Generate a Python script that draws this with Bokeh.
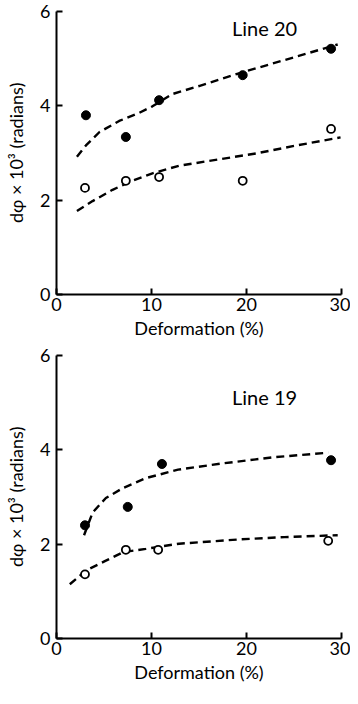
from bokeh.plotting import figure
from bokeh.layouts import column
from bokeh.models import Range1d, FixedTicker
from bokeh.core.properties import value
from bokeh.embed import file_html
from bokeh.resources import INLINE

FONT = "Lato"

# ---- Line 20 (top panel) ----
top_filled_x = [3.1, 7.3, 10.8, 19.6, 28.9]
top_filled_y = [3.80, 3.34, 4.12, 4.65, 5.21]
top_open_x = [3.0, 7.3, 10.8, 19.6, 28.9]
top_open_y = [2.26, 2.41, 2.49, 2.41, 3.51]
top_fit_hi_x = [2.15, 3.1, 4.5, 6.6, 8.7, 10.1, 12.2, 15.0, 19.2, 24.0, 29.6]
top_fit_hi_y = [2.92, 3.16, 3.44, 3.68, 3.85, 3.99, 4.25, 4.42, 4.69, 4.97, 5.30]
top_fit_lo_x = [2.15, 3.8, 5.9, 8.0, 10.1, 12.9, 16.0, 21.0, 25.0, 29.9]
top_fit_lo_y = [1.77, 1.98, 2.22, 2.41, 2.57, 2.73, 2.83, 2.99, 3.15, 3.33]
top_label = "Line 20"
top_label_xy = (21.9, 5.66)

# ---- Line 19 (bottom panel) ----
bot_filled_x = [3.0, 7.5, 11.1, 28.9]
bot_filled_y = [2.40, 2.79, 3.70, 3.78]
bot_open_x = [3.0, 7.3, 10.7, 28.6]
bot_open_y = [1.36, 1.88, 1.88, 2.07]
bot_fit_hi_x = [2.9, 3.8, 5.2, 7.0, 9.4, 12.8, 17.4, 22.7, 28.6]
bot_fit_hi_y = [2.19, 2.67, 2.98, 3.19, 3.40, 3.58, 3.71, 3.84, 3.94]
bot_fit_lo_x = [1.4, 3.1, 5.2, 7.0, 9.4, 12.9, 19.2, 24.0, 29.6]
bot_fit_lo_y = [1.15, 1.44, 1.65, 1.83, 1.90, 2.01, 2.10, 2.15, 2.19]
bot_label = "Line 19"
bot_label_xy = (21.9, 5.13)

x_ticks = [0, 10, 20, 30]
y_ticks = [0, 2, 4, 6]
x_title = "Deformation (%)"
y_title = "dφ × 10³ (radians)"


def panel(border_top, frame_h, border_bottom,
          fx, fy, ox, oy, hx, hy, lx, ly, label, label_xy):
    p = figure(width=350, height=border_top + frame_h + border_bottom,
               x_range=Range1d(0, 30), y_range=Range1d(0, 6),
               output_backend="svg", toolbar_location=None,
               min_border_left=56, min_border_right=9,
               min_border_top=border_top, min_border_bottom=border_bottom)
    p.outline_line_color = None
    p.grid.visible = False
    p.background_fill_color = "white"
    p.border_fill_color = "white"

    for ax, ticks in ((p.xaxis, x_ticks), (p.yaxis, y_ticks)):
        ax.ticker = FixedTicker(ticks=ticks)
        ax.minor_tick_line_color = None
        ax.major_tick_in = 6
        ax.major_tick_out = 0
        ax.major_tick_line_width = 2
        ax.major_tick_line_color = "black"
        ax.axis_line_width = 2
        ax.axis_line_color = "black"
        ax.major_label_text_font = FONT
        ax.major_label_text_font_size = "18px"
        ax.major_label_text_color = "black"
        ax.axis_label_text_font = FONT
        ax.axis_label_text_font_style = "normal"
        ax.axis_label_text_color = "black"
    p.xaxis.axis_label = x_title
    p.xaxis.axis_label_text_font_size = "18px"
    p.xaxis.major_label_standoff = 3
    p.xaxis.axis_label_standoff = 3
    p.yaxis.axis_label = y_title
    p.yaxis.axis_label_text_font_size = "18px"
    p.yaxis.major_label_standoff = 6
    p.yaxis.axis_label_standoff = 10

    p.line(hx, hy, line_color="black", line_width=2.4, line_dash="8 5")
    p.line(lx, ly, line_color="black", line_width=2.4, line_dash="8 5")
    p.scatter(fx, fy, size=9, fill_color="black", line_color="black")
    p.scatter(ox, oy, size=8, fill_color="white", line_color="black", line_width=1.8)
    p.text(x=[label_xy[0]], y=[label_xy[1]], text=[label], text_font=value(FONT),
           text_font_size="20px", text_align="center", text_baseline="middle",
           text_color="black")
    return p


p1 = panel(11, 283, 50, top_filled_x, top_filled_y, top_open_x, top_open_y,
           top_fit_hi_x, top_fit_hi_y, top_fit_lo_x, top_fit_lo_y, top_label, top_label_xy)
p2 = panel(11, 283, 50, bot_filled_x, bot_filled_y, bot_open_x, bot_open_y,
           bot_fit_hi_x, bot_fit_hi_y, bot_fit_lo_x, bot_fit_lo_y, bot_label, bot_label_xy)

layout = column(p1, p2, spacing=0)
open("out.html", "w").write(file_html(layout, INLINE))
